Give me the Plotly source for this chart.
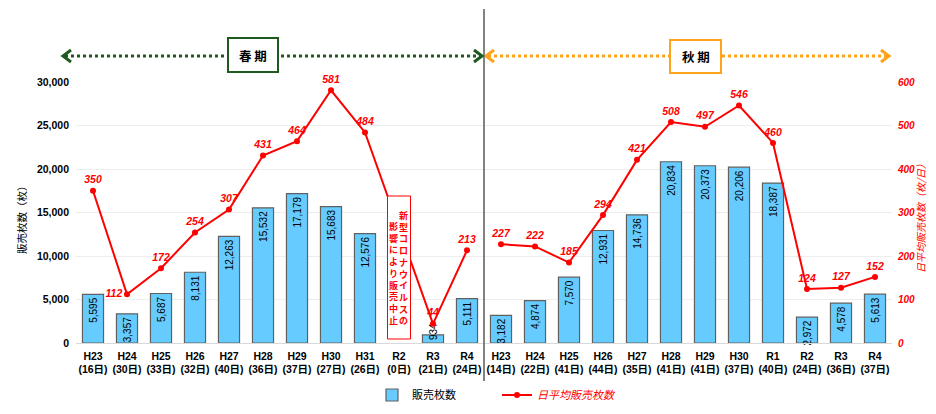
import plotly.graph_objects as go

# ---- data ----
spring_labels = ["H23", "H24", "H25", "H26", "H27", "H28", "H29", "H30", "H31", "R2", "R3", "R4"]
spring_days = [16, 30, 33, 32, 40, 36, 37, 27, 26, 0, 21, 24]
spring_sales = [5595, 3357, 5687, 8131, 12263, 15532, 17179, 15683, 12576, None, 934, 5111]
spring_daily = [350, 112, 172, 254, 307, 431, 464, 581, 484, None, 44, 213]

autumn_labels = ["H23", "H24", "H25", "H26", "H27", "H28", "H29", "H30", "R1", "R2", "R3", "R4"]
autumn_days = [14, 22, 41, 44, 35, 41, 41, 37, 40, 24, 36, 37]
autumn_sales = [3182, 4874, 7570, 12931, 14736, 20834, 20373, 20206, 18387, 2972, 4578, 5613]
autumn_daily = [227, 222, 185, 294, 421, 508, 497, 546, 460, 124, 127, 152]

covid_note_right = "新型コロナウイルスの"
covid_note_left = "影響により販売中止"

# ---- derived ----
n = len(spring_labels)
x_spring = list(range(n))
x_autumn = list(range(n, 2 * n))
x_all = x_spring + x_autumn
ticktext = [f"{l}<br>({d}日)" for l, d in zip(spring_labels + autumn_labels, spring_days + autumn_days)]
sales_all = spring_sales + autumn_sales
SMALL = 2000
big_sales = [v if (v is not None and v >= SMALL) else None for v in sales_all]
small_sales = [v if (v is not None and v < SMALL) else None for v in sales_all]

def fmt(vals):
    return [f"{v:,}" if v is not None else "" for v in vals]

FONT = "Liberation Sans, Noto Sans CJK JP, sans-serif"
JP = "Noto Sans CJK JP, sans-serif"
RED = "#FF0000"
GREEN = "#1E5A1E"
ORANGE = "#FFA31A"
BAR_FILL = "#66CCFF"
BAR_LINE = "#606060"

# The page body has an 8px margin, so the figure is sized to fit inside the window.
PAGE_OFF = 8
FIG_W, FIG_H = 936 - 2 * PAGE_OFF, 414 - 2 * PAGE_OFF
PLOT_L, PLOT_R, PLOT_T, PLOT_B = 76, 892, 82, 343   # plot area in window pixels

fig = go.Figure()

fig.add_trace(go.Bar(
    x=x_all, y=big_sales, name="販売枚数",
    text=fmt(big_sales), textposition="inside", insidetextanchor="end", textangle=-90,
    textfont=dict(size=10, color="black", family=FONT),
    marker=dict(color=BAR_FILL, line=dict(color=BAR_LINE, width=1.2)),
    yaxis="y", cliponaxis=False,
))
fig.add_trace(go.Bar(
    x=x_all, y=small_sales, name="販売枚数", showlegend=False,
    text=fmt(small_sales), textposition="inside", insidetextanchor="start", textangle=-90,
    textfont=dict(size=10, color="black", family=FONT),
    marker=dict(color=BAR_FILL, line=dict(color=BAR_LINE, width=1.2)),
    yaxis="y", cliponaxis=False,
))

def daily_trace(xs, ys, show):
    pos = ["top center"] * len(ys)
    if show and ys[1] is not None and ys[1] < ys[0] and ys[1] < ys[2]:
        pos[1] = "middle left"
    return go.Scatter(
        x=xs, y=ys, yaxis="y2", mode="lines+markers+text", connectgaps=True,
        text=[str(v) if v is not None else "" for v in ys], textposition=pos,
        line=dict(color=RED, width=2), marker=dict(size=6, color=RED),
        textfont=dict(color=RED, size=10.5, family=FONT, weight="bold", style="italic"),
        name=f"<span style='color:{RED}'><i>日平均販売枚数</i></span>",
        showlegend=show, cliponaxis=False,
    )

fig.add_trace(daily_trace(x_spring, spring_daily, True))
fig.add_trace(daily_trace(x_autumn, autumn_daily, False))

# ---- decorations (positions given in window pixels) ----
def px2paper_x(px):
    return (px - PLOT_L) / (PLOT_R - PLOT_L)

def px2paper_y(py):
    return (PLOT_B - py) / (PLOT_B - PLOT_T)

shapes = []
annotations = []

# dotted period arrows
arrow_y = px2paper_y(56)
for x0, x1, col in [(63, 482, GREEN), (486, 889, ORANGE)]:
    shapes.append(dict(type="line", xref="paper", yref="paper",
                       x0=px2paper_x(x0 + 2), x1=px2paper_x(x1 - 2), y0=arrow_y, y1=arrow_y,
                       line=dict(color=col, width=3, dash="dot")))
    shapes.append(dict(type="path", xref="paper", yref="paper", xsizemode="pixel", ysizemode="pixel",
                       xanchor=px2paper_x(x0), yanchor=arrow_y, path="M 8,6 L 0,0 L 8,-6",
                       line=dict(color=col, width=3)))
    shapes.append(dict(type="path", xref="paper", yref="paper", xsizemode="pixel", ysizemode="pixel",
                       xanchor=px2paper_x(x1), yanchor=arrow_y, path="M -8,6 L 0,0 L -8,-6",
                       line=dict(color=col, width=3)))

# period boxes
for (bx0, bx1, by0, by1), col, label in [((228, 278, 38, 72), GREEN, "春 期"),
                                          ((670, 721, 40, 73), ORANGE, "秋 期")]:
    shapes.append(dict(type="rect", xref="paper", yref="paper",
                       x0=px2paper_x(bx0), x1=px2paper_x(bx1), y0=px2paper_y(by1), y1=px2paper_y(by0),
                       fillcolor="white", line=dict(color=col, width=2)))
    annotations.append(dict(xref="paper", yref="paper", x=px2paper_x((bx0 + bx1) / 2),
                            y=px2paper_y((by0 + by1) / 2), xanchor="center", yanchor="middle",
                            text="<b>" + label + "</b>", showarrow=False,
                            font=dict(size=12.5, color="black", family=JP)))

# vertical divider between spring and autumn
shapes.append(dict(type="line", xref="paper", yref="paper", x0=0.5, x1=0.5,
                   y0=px2paper_y(394), y1=px2paper_y(9), line=dict(color="#595959", width=1.5)))

# covid note box (over R2 of spring)
r2_idx = spring_labels.index("R2")
r2_paper = (r2_idx + 0.5) / (2 * n)
half_w = 11.5 / (PLOT_R - PLOT_L)
shapes.append(dict(type="rect", xref="paper", yref="paper", layer="above",
                   x0=r2_paper - half_w, x1=r2_paper + half_w,
                   y0=px2paper_y(339), y1=px2paper_y(196),
                   fillcolor="white", line=dict(color=RED, width=1)))
annotations.append(dict(xref="x", yref="paper", x=r2_idx, xshift=4.5, y=px2paper_y(268),
                        xanchor="center", yanchor="middle",
                        text="<b>" + "<br>".join(covid_note_right) + "</b>", showarrow=False,
                        font=dict(size=9, color=RED, family=JP)))
annotations.append(dict(xref="x", yref="paper", x=r2_idx, xshift=-6, y=px2paper_y(273),
                        xanchor="center", yanchor="middle",
                        text="<b>" + "<br>".join(covid_note_left) + "</b>", showarrow=False,
                        font=dict(size=9, color=RED, family=JP)))

# axis titles
annotations.append(dict(xref="paper", yref="paper", x=px2paper_x(22), y=px2paper_y(217),
                        xanchor="center", yanchor="middle",
                        text="販売枚数（枚）", textangle=-90, showarrow=False,
                        font=dict(size=10.5, color="black", family=JP)))
annotations.append(dict(xref="paper", yref="paper", x=px2paper_x(920), y=px2paper_y(216),
                        xanchor="center", yanchor="middle",
                        text="<i>日平均販売枚数（枚/日）</i>", textangle=-90, showarrow=False,
                        font=dict(size=10, color=RED, family=JP)))

fig.update_layout(
    width=FIG_W, height=FIG_H, autosize=False,
    margin=dict(l=PLOT_L - PAGE_OFF, r=FIG_W - (PLOT_R - PAGE_OFF),
                t=PLOT_T - PAGE_OFF, b=FIG_H - (PLOT_B - PAGE_OFF), autoexpand=False),
    paper_bgcolor="white", plot_bgcolor="white",
    font=dict(family=FONT, color="black"),
    barmode="overlay",
    bargap=0.38,
    uniformtext=dict(minsize=10, mode="show"),
    xaxis=dict(range=[-0.5, 2 * n - 0.5], tickmode="array", tickvals=x_all, ticktext=ticktext,
               tickfont=dict(size=10.5, weight="bold", family=FONT), showgrid=False,
               showline=True, linecolor="#D9D9D9", linewidth=1, ticks="", zeroline=False,
               ticklabelstandoff=3),
    yaxis=dict(range=[0, 30000], dtick=5000, tickformat=",d", gridcolor="#EDEDED",
               tickfont=dict(size=10.5, weight="bold", family=FONT), zeroline=False,
               showline=False, ticklabelstandoff=6),
    yaxis2=dict(range=[0, 600], dtick=100, overlaying="y", side="right", showgrid=False,
                tickfont=dict(size=10, color=RED, weight="bold", style="italic", family=FONT),
                zeroline=False, showline=False, ticklabelstandoff=5),
    legend=dict(orientation="h", x=px2paper_x(372), xanchor="left", y=px2paper_y(395), yanchor="middle",
                font=dict(size=11, family=JP), entrywidth=80, itemwidth=30),
    shapes=shapes, annotations=annotations,
)

fig.write_html("out.html")
